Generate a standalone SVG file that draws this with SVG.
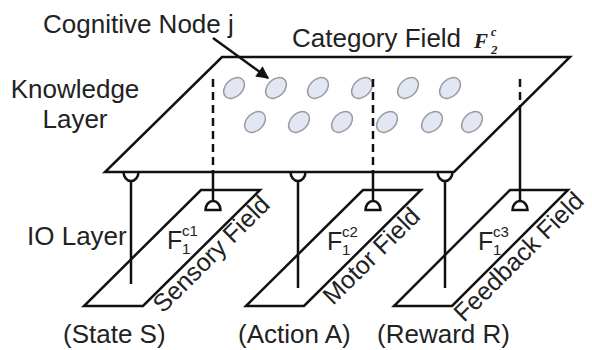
<svg xmlns="http://www.w3.org/2000/svg" width="592" height="350" viewBox="0 0 592 350">
  <defs>
    <style>
      .ln { fill: none; stroke: #111; stroke-width: 2.5; }
      .dash { fill: none; stroke: #111; stroke-width: 2.5; stroke-dasharray: 8 5; }
      .plane { fill: #fff; stroke: #111; stroke-width: 2.5; stroke-linejoin: miter; }
      .node { fill: #e3e7f3; stroke: #9a9ca4; stroke-width: 1.5; }
      .lbl { font-family: "Liberation Sans", Arial, sans-serif; font-size: 26px; fill: #222; }
      .rot { font-family: "Liberation Sans", Arial, sans-serif; font-size: 25px; fill: #222; }
      .fl { font-family: "Liberation Sans", Arial, sans-serif; font-size: 25px; fill: #222; }
      .sm { font-family: "Liberation Sans", Arial, sans-serif; font-size: 15px; fill: #222; }
      .it { font-family: "Liberation Serif", "Times New Roman", serif; font-style: italic; font-weight: bold; fill: #222; }
      .term { fill: #fff; stroke: #111; stroke-width: 2.5; }
    </style>
    <marker id="head" viewBox="0 0 10 10" refX="9" refY="5" markerWidth="6" markerHeight="5" markerUnits="strokeWidth" orient="auto">
      <path d="M0,0 L10,5 L0,10 Z" fill="#111"/>
    </marker>
  </defs>

  <!-- knowledge layer: category field F2 -->
  <g id="category-field">
    <polygon class="plane" points="222,57 570,57 454,172 105,172"/>
    <g id="cognitive-nodes">
      <ellipse class="node" cx="234" cy="88" rx="12" ry="8.5" transform="rotate(-45 234 88)"/>
      <ellipse class="node" cx="276" cy="88" rx="12" ry="8.5" transform="rotate(-45 276 88)"/>
      <ellipse class="node" cx="318" cy="88" rx="12" ry="8.5" transform="rotate(-45 318 88)"/>
      <ellipse class="node" cx="362" cy="88" rx="12" ry="8.5" transform="rotate(-45 362 88)"/>
      <ellipse class="node" cx="408" cy="88" rx="12" ry="8.5" transform="rotate(-45 408 88)"/>
      <ellipse class="node" cx="450" cy="88" rx="12" ry="8.5" transform="rotate(-45 450 88)"/>
      <ellipse class="node" cx="255" cy="122" rx="12" ry="8.5" transform="rotate(-45 255 122)"/>
      <ellipse class="node" cx="299" cy="122" rx="12" ry="8.5" transform="rotate(-45 299 122)"/>
      <ellipse class="node" cx="342" cy="122" rx="12" ry="8.5" transform="rotate(-45 342 122)"/>
      <ellipse class="node" cx="387" cy="122" rx="12" ry="8.5" transform="rotate(-45 387 122)"/>
      <ellipse class="node" cx="432" cy="122" rx="12" ry="8.5" transform="rotate(-45 432 122)"/>
      <ellipse class="node" cx="472" cy="122" rx="12" ry="8.5" transform="rotate(-45 472 122)"/>
    </g>
    <text class="lbl" x="292" y="47">Category Field</text>
    <text class="it" x="474" y="48" font-size="21">F</text>
    <text class="it" x="491" y="36" font-size="12">c</text>
    <text class="it" x="491" y="54" font-size="13" font-style="normal">2</text>
  </g>

  <!-- IO layer fields -->
  <g id="sensory-field">
    <polygon class="plane" points="201,190 260,190 143,306 84,306"/>
    <text class="fl" x="167" y="249">F</text>
    <text class="sm" x="182" y="236">c1</text>
    <text class="sm" x="182" y="254">1</text>
    <text class="rot" transform="translate(163,314) rotate(-44.8)">Sensory Field</text>
  </g>
  <g id="motor-field">
    <polygon class="plane" points="363,190 421,190 304,306 246,306"/>
    <text class="fl" x="327" y="250">F</text>
    <text class="sm" x="342" y="237">c2</text>
    <text class="sm" x="342" y="255">1</text>
    <text class="rot" transform="translate(333,306) rotate(-44.8)">Motor Field</text>
  </g>
  <g id="feedback-field">
    <polygon class="plane" points="510,190 568,190 452,306 394,306"/>
    <text class="fl" x="478" y="250">F</text>
    <text class="sm" x="493" y="237">c3</text>
    <text class="sm" x="493" y="255">1</text>
    <text class="rot" transform="translate(464,323) rotate(-44.8)">Feedback Field</text>
  </g>

  <!-- connectors between layers -->
  <g id="connectors">
    <!-- bottom-up links: cup on the category field, line down through the IO fields -->
    <path class="ln" d="M123.5,172 A7.5 9 0 0 0 138.5,172 M131,181 V284"/>
    <path class="ln" d="M290.5,172 A7.5 9 0 0 0 305.5,172 M298,181 V288"/>
    <path class="ln" d="M437.5,172 A7.5 9 0 0 0 452.5,172 M445,181 V288"/>
    <!-- top-down links: dashed across the plane, ending on a terminal -->
    <line class="dash" x1="213" y1="79" x2="213" y2="172"/>
    <line class="ln" x1="213" y1="172" x2="213" y2="201"/>
    <path class="term" d="M205.5,210 A7.5 9 0 0 1 220.5,210 Z"/>
    <line class="dash" x1="373" y1="79" x2="373" y2="172"/>
    <line class="ln" x1="373" y1="172" x2="373" y2="201"/>
    <path class="term" d="M365.5,210 A7.5 9 0 0 1 380.5,210 Z"/>
    <line class="dash" x1="520" y1="79" x2="520" y2="107"/>
    <line class="ln" x1="520" y1="107" x2="520" y2="201"/>
    <path class="term" d="M512.5,210 A7.5 9 0 0 1 527.5,210 Z"/>
    <!-- pointer to a cognitive node -->
    <line class="ln" x1="213" y1="38" x2="268" y2="78" marker-end="url(#head)"/>
  </g>

  <!-- labels -->
  <g id="labels">
    <text class="lbl" x="43" y="33" font-size="27">Cognitive Node j</text>
    <text class="lbl" x="75" y="98" text-anchor="middle">Knowledge</text>
    <text class="lbl" x="75" y="128" text-anchor="middle">Layer</text>
    <text class="lbl" x="27" y="245">IO Layer</text>
    <text class="lbl" x="63" y="343">(State S)</text>
    <text class="lbl" x="238" y="343">(Action A)</text>
    <text class="lbl" x="377" y="343">(Reward R)</text>
  </g>
</svg>
